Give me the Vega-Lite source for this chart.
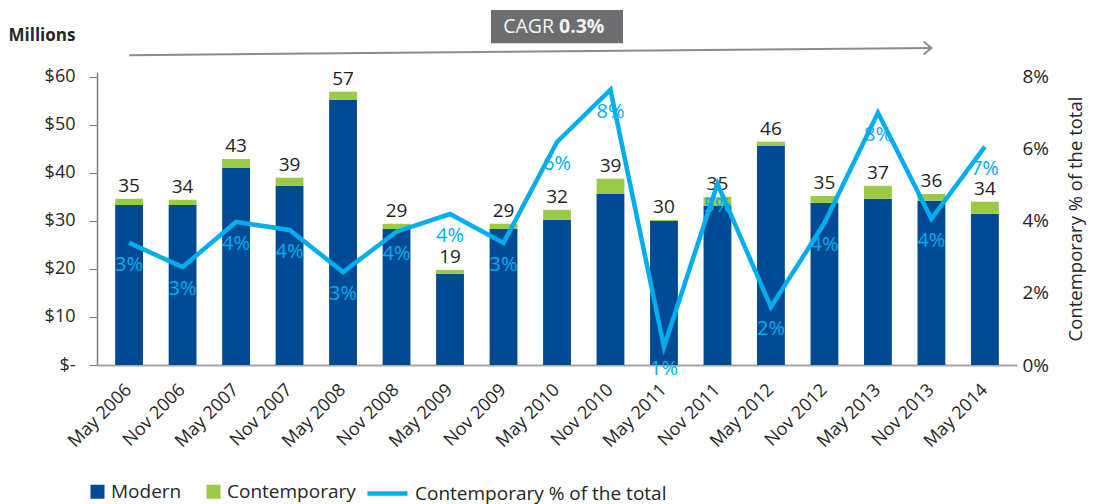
{
  "$schema": "https://vega.github.io/schema/vega-lite/v6.json",
  "width": 920,
  "height": 293,
  "autosize": {"type": "none"},
  "padding": {"left": 97, "top": 72, "right": 76, "bottom": 139},
  "background": "white",
  "config": {
    "font": "Open Sans",
    "view": {"stroke": null},
    "axis": {"grid": false, "labelColor": "#262626", "titleColor": "#262626", "labelFont": "Open Sans", "titleFont": "Open Sans"},
    "axisX": {"labelAngle": -45, "labelAlign": "right", "labelBaseline": "middle", "labelFontSize": 18, "labelPadding": 22, "ticks": false, "domainColor": "#A6A6A6", "domainWidth": 2, "title": null},
    "legend": {"labelFont": "Open Sans", "labelFontSize": 19, "labelColor": "#262626", "labelLimit": 500}
  },
  "datasets": {
    "bars": [
      {"period": "May 2006", "series": "Modern", "value": 33.3},
      {"period": "May 2006", "series": "Contemporary", "value": 1.3},
      {"period": "Nov 2006", "series": "Modern", "value": 33.3},
      {"period": "Nov 2006", "series": "Contemporary", "value": 1.1},
      {"period": "May 2007", "series": "Modern", "value": 41.0},
      {"period": "May 2007", "series": "Contemporary", "value": 1.9},
      {"period": "Nov 2007", "series": "Modern", "value": 37.3},
      {"period": "Nov 2007", "series": "Contemporary", "value": 1.7},
      {"period": "May 2008", "series": "Modern", "value": 55.2},
      {"period": "May 2008", "series": "Contemporary", "value": 1.7},
      {"period": "Nov 2008", "series": "Modern", "value": 28.3},
      {"period": "Nov 2008", "series": "Contemporary", "value": 1.1},
      {"period": "May 2009", "series": "Modern", "value": 19.0},
      {"period": "May 2009", "series": "Contemporary", "value": 0.8},
      {"period": "Nov 2009", "series": "Modern", "value": 28.3},
      {"period": "Nov 2009", "series": "Contemporary", "value": 1.1},
      {"period": "May 2010", "series": "Modern", "value": 30.2},
      {"period": "May 2010", "series": "Contemporary", "value": 2.1},
      {"period": "Nov 2010", "series": "Modern", "value": 35.6},
      {"period": "Nov 2010", "series": "Contemporary", "value": 3.15},
      {"period": "May 2011", "series": "Modern", "value": 30.0},
      {"period": "May 2011", "series": "Contemporary", "value": 0.2},
      {"period": "Nov 2011", "series": "Modern", "value": 33.1},
      {"period": "Nov 2011", "series": "Contemporary", "value": 1.9},
      {"period": "May 2012", "series": "Modern", "value": 45.6},
      {"period": "May 2012", "series": "Contemporary", "value": 0.9},
      {"period": "Nov 2012", "series": "Modern", "value": 33.75},
      {"period": "Nov 2012", "series": "Contemporary", "value": 1.45},
      {"period": "May 2013", "series": "Modern", "value": 34.6},
      {"period": "May 2013", "series": "Contemporary", "value": 2.7},
      {"period": "Nov 2013", "series": "Modern", "value": 34.2},
      {"period": "Nov 2013", "series": "Contemporary", "value": 1.4},
      {"period": "May 2014", "series": "Modern", "value": 31.5},
      {"period": "May 2014", "series": "Contemporary", "value": 2.5}
    ],
    "summary": [
      {"period": "May 2006", "total": 35, "pct": 0.0339, "pctLabel": "3%"},
      {"period": "Nov 2006", "total": 34, "pct": 0.0272, "pctLabel": "3%"},
      {"period": "May 2007", "total": 43, "pct": 0.0397, "pctLabel": "4%"},
      {"period": "Nov 2007", "total": 39, "pct": 0.0375, "pctLabel": "4%"},
      {"period": "May 2008", "total": 57, "pct": 0.0258, "pctLabel": "3%"},
      {"period": "Nov 2008", "total": 29, "pct": 0.037, "pctLabel": "4%"},
      {"period": "May 2009", "total": 19, "pct": 0.0419, "pctLabel": "4%"},
      {"period": "Nov 2009", "total": 29, "pct": 0.0339, "pctLabel": "3%"},
      {"period": "May 2010", "total": 32, "pct": 0.0619, "pctLabel": "6%"},
      {"period": "Nov 2010", "total": 39, "pct": 0.0764, "pctLabel": "8%"},
      {"period": "May 2011", "total": 30, "pct": 0.005, "pctLabel": "1%"},
      {"period": "Nov 2011", "total": 35, "pct": 0.0503, "pctLabel": "5%"},
      {"period": "May 2012", "total": 46, "pct": 0.0161, "pctLabel": "2%"},
      {"period": "Nov 2012", "total": 35, "pct": 0.0394, "pctLabel": "4%"},
      {"period": "May 2013", "total": 37, "pct": 0.07, "pctLabel": "8%"},
      {"period": "Nov 2013", "total": 36, "pct": 0.0406, "pctLabel": "4%"},
      {"period": "May 2014", "total": 34, "pct": 0.0606, "pctLabel": "7%"}
    ]
  },
  "layer": [
    {
      "layer": [
        {
          "data": {"name": "bars"},
          "mark": {"type": "bar"},
          "encoding": {
            "x": {"field": "period", "type": "nominal", "sort": null, "title": null, "scale": {"paddingInner": 0.48, "paddingOuter": 0.34}},
            "y": {
              "field": "value", "type": "quantitative", "stack": "zero",
              "scale": {"domain": [0, 61], "nice": false},
              "axis": {
                "values": [0, 10, 20, 30, 40, 50, 60],
                "labelExpr": "datum.value === 0 ? '$-' : '$' + datum.value",
                "labelFontSize": 18, "labelPadding": 14, "tickSize": 8,
                "tickColor": "#7F7F7F", "domainColor": "#7F7F7F", "domainWidth": 1.5,
                "title": "Millions", "titleAngle": 0, "titleX": -89, "titleY": -32,
                "titleAlign": "left", "titleBaseline": "alphabetic",
                "titleFontSize": 17, "titleFontWeight": "bold"
              }
            },
            "color": {
              "field": "series", "type": "nominal",
              "scale": {"domain": ["Modern", "Contemporary"], "range": ["#004A93", "#9BCA47"]},
              "legend": {"title": null, "orient": "none", "legendX": -9, "legendY": 410, "direction": "horizontal", "symbolType": "square", "symbolSize": 196, "symbolStrokeWidth": 0, "labelOffset": 4, "columnPadding": 22}
            },
            "order": {"field": "series", "sort": "descending"}
          }
        },
        {
          "data": {"name": "bars"},
          "transform": [
            {"aggregate": [{"op": "sum", "field": "value", "as": "top"}], "groupby": ["period"]},
            {"lookup": "period", "from": {"data": {"name": "summary"}, "key": "period", "fields": ["total"]}}
          ],
          "mark": {"type": "text", "baseline": "alphabetic", "dy": -7, "fontSize": 19, "color": "#1F1F1F"},
          "encoding": {
            "x": {"field": "period", "type": "nominal", "sort": null, "title": null},
            "y": {"field": "top", "type": "quantitative"},
            "text": {"field": "total", "type": "quantitative"}
          }
        },
        {
          "data": {"values": [{}]},
          "mark": {"type": "rule", "color": "#8C8C8C", "strokeWidth": 2},
          "encoding": {
            "x": {"datum": "May 2006", "type": "nominal"},
            "x2": {"datum": "Nov 2013"},
            "y": {"datum": 64.5, "type": "quantitative"},
            "y2": {"datum": 66}
          }
        },
        {
          "data": {"values": [{}]},
          "mark": {"type": "point", "shape": "M-1.2,-1L0,0L-1.2,1", "filled": false, "stroke": "#8C8C8C", "strokeWidth": 2, "size": 169, "opacity": 1},
          "encoding": {
            "x": {"datum": "Nov 2013", "type": "nominal"},
            "y": {"datum": 66, "type": "quantitative"}
          }
        },
        {
          "data": {"values": [{}]},
          "mark": {"type": "bar", "color": "#6D6E71", "width": 132},
          "encoding": {
            "x": {"datum": "May 2010", "type": "nominal"},
            "y": {"datum": 67.0, "type": "quantitative"},
            "y2": {"datum": 73.9}
          }
        },
        {
          "data": {"values": [{"t": "CAGR"}]},
          "mark": {"type": "text", "align": "right", "baseline": "middle", "dx": -3, "fontSize": 19.5, "color": "#F2F2F2"},
          "encoding": {
            "x": {"datum": "May 2010", "type": "nominal"},
            "y": {"datum": 70.45, "type": "quantitative"},
            "text": {"field": "t"}
          }
        },
        {
          "data": {"values": [{"t": "0.3%"}]},
          "mark": {"type": "text", "align": "left", "baseline": "middle", "dx": 2, "fontSize": 19.5, "fontWeight": "bold", "color": "#F2F2F2"},
          "encoding": {
            "x": {"datum": "May 2010", "type": "nominal"},
            "y": {"datum": 70.45, "type": "quantitative"},
            "text": {"field": "t"}
          }
        }
      ]
    },
    {
      "data": {"name": "summary"},
      "layer": [
        {
          "mark": {"type": "line", "strokeWidth": 4.5, "strokeJoin": "miter", "strokeCap": "butt"},
          "encoding": {
            "x": {"field": "period", "type": "nominal", "sort": null, "title": null},
            "y": {
              "field": "pct", "type": "quantitative",
              "scale": {"domain": [0, 0.08133], "nice": false},
              "axis": {
                "orient": "right", "values": [0, 0.02, 0.04, 0.06, 0.08], "format": ".0%",
                "domain": false, "ticks": false, "labelPadding": 5, "labelFontSize": 19,
                "title": "Contemporary % of the total", "titleFontSize": 18.5, "titleFontWeight": "normal",
                "titleAngle": -90, "titleBaseline": "top", "titlePadding": 18
              }
            },
            "stroke": {
              "datum": "Contemporary % of the total",
              "scale": {"range": ["#00AEEF"]},
              "legend": {"title": null, "orient": "none", "legendX": 268, "legendY": 399, "symbolType": "stroke", "symbolSize": 1600, "symbolStrokeWidth": 4.5, "labelOffset": 5}
            }
          }
        },
        {
          "mark": {"type": "text", "baseline": "middle", "dy": 22, "fontSize": 20, "color": "#00AEEF"},
          "encoding": {
            "x": {"field": "period", "type": "nominal", "sort": null, "title": null},
            "y": {"field": "pct", "type": "quantitative"},
            "text": {"field": "pctLabel"}
          }
        }
      ]
    }
  ],
  "resolve": {"scale": {"y": "independent"}, "axis": {"y": "independent"}}
}
